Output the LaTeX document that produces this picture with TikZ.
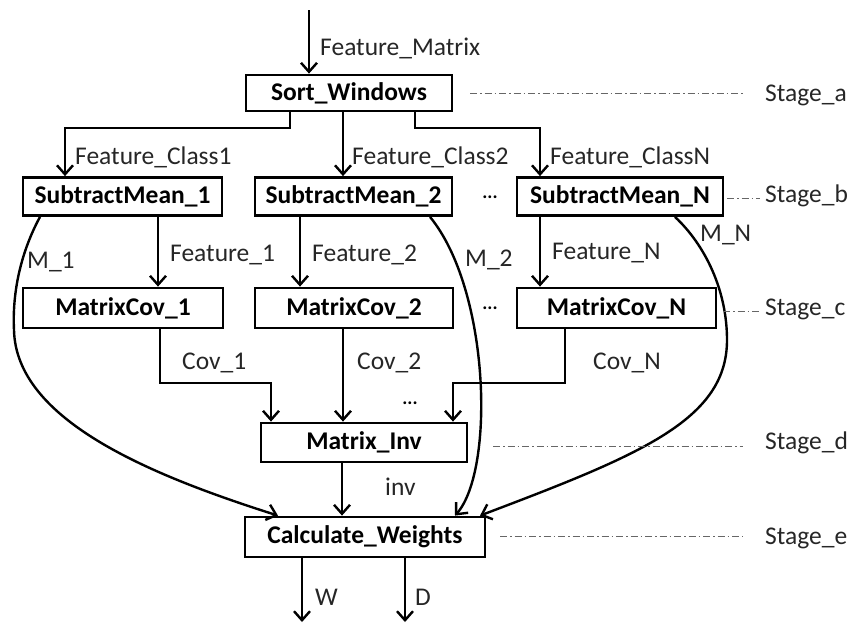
\documentclass[tikz,border=0pt]{standalone}
\usepackage{fontspec}
\setmainfont{Carlito}
\usetikzlibrary{arrows.meta}
\begin{document}
\begin{tikzpicture}[x=1pt,y=-1pt,
  every node/.style={font=\fontsize{25.5}{30}\selectfont, inner sep=0pt},
  proc/.style={draw, line width=2.8pt, font=\fontsize{25.5}{30}\selectfont\bfseries, minimum height=38pt},
  conn/.style={line width=2.4pt, -{Straight Barb[length=9pt,width=16pt]}},
  lbl/.style={anchor=west, text=black!85},
  stageline/.style={black!60, line width=1pt, dash pattern=on 7pt off 3pt on 1.5pt off 3pt},
  dots/.style={font=\fontsize{19}{22}\selectfont\bfseries}
]
\useasboundingbox (0,0) rectangle (854,627);

% processing blocks
\node[proc, minimum width=206pt, minimum height=36pt] (sort) at (349,93) {Sort\_Windows};
\node[proc, minimum width=199pt] (sm1) at (122.5,196.5) {SubtractMean\_1};
\node[proc, minimum width=197pt] (sm2) at (353.5,196.5) {SubtractMean\_2};
\node[proc, minimum width=206pt] (smN) at (620,196.5) {SubtractMean\_N};
\node[proc, minimum width=200pt, minimum height=40pt] (mc1) at (123,308) {MatrixCov\_1};
\node[proc, minimum width=198pt, minimum height=40pt] (mc2) at (354,308) {MatrixCov\_2};
\node[proc, minimum width=199pt, minimum height=40pt] (mcN) at (616.5,308) {MatrixCov\_N};
\node[proc, minimum width=206pt, minimum height=39pt] (inv) at (364,442.5) {Matrix\_Inv};
\node[proc, minimum width=240pt, minimum height=40pt] (cw) at (365,537) {Calculate\_Weights};

\node[dots] (d1) at (490,197) {...};
\node[dots] (d2) at (490,308) {...};
\node[dots] (d3) at (410,403) {...};

% input
\coordinate (in) at (309,10);
\draw[conn] (in) -- (in |- sort.north);
\node[lbl] (fm) at (320,48) {Feature\_Matrix};

% split into classes
\coordinate (s1) at ([xshift=-59pt]sort.south);
\coordinate (s2) at ([xshift=-6pt]sort.south);
\coordinate (s3) at ([xshift=66pt]sort.south);
\coordinate (b1) at (65,128);
\coordinate (b3) at (540,128);
\draw[conn] (s1) |- (b1) -- (b1 |- sm1.north);
\draw[conn] (s2) -- (s2 |- sm2.north);
\draw[conn] (s3) |- (b3) -- (b3 |- smN.north);
\node[lbl] (fc1) at (75,157) {Feature\_Class1};
\node[lbl] (fc2) at (352,157) {Feature\_Class2};
\node[lbl] (fcN) at (550,157) {Feature\_ClassN};

% mean-subtracted features
\coordinate (f1) at ([xshift=35.5pt]sm1.south);
\coordinate (f2) at ([xshift=-53.5pt]sm2.south);
\coordinate (fN) at ([xshift=-80pt]smN.south);
\draw[conn] (f1) -- (f1 |- mc1.north);
\draw[conn] (f2) -- (f2 |- mc2.north);
\draw[conn] (fN) -- (fN |- mcN.north);
\node[lbl] (lf1) at (170,255) {Feature\_1};
\node[lbl] (lf2) at (312,255) {Feature\_2};
\node[lbl] (lfN) at (552,253) {Feature\_N};

% covariances
\coordinate (c1) at ([xshift=37pt]mc1.south);
\coordinate (c2) at ([xshift=-11pt]mc2.south);
\coordinate (cN) at ([xshift=-51.5pt]mcN.south);
\coordinate (k1) at (271,383);
\coordinate (kN) at (453,383);
\draw[conn] (c1) |- (k1) -- (k1 |- inv.north);
\draw[conn] (c2) -- (c2 |- inv.north);
\draw[conn] (cN) |- (kN) -- (kN |- inv.north);
\node[lbl] (lc1) at (182,363) {Cov\_1};
\node[lbl] (lc2) at (357,363) {Cov\_2};
\node[lbl] (lcN) at (593,363) {Cov\_N};

% inverse
\coordinate (iv) at ([xshift=-22pt]inv.south);
\draw[conn] (iv) -- (iv |- cw.north);
\node[lbl] (linv) at (385,487) {inv};

% means
\draw[conn] ([xshift=-82.5pt]sm1.south) .. controls (22,250) and (12,290) .. (14,330)
  .. controls (16,420) and (150,475) .. ([xshift=-87pt]cw.north);
\draw[conn] ([xshift=76.5pt]sm2.south) .. controls (490,290) and (495,470) .. ([xshift=90pt]cw.north);
\draw[conn] ([xshift=55pt]smN.south) .. controls (705,245) and (727,290) .. (727,340)
  .. controls (727,420) and (640,455) .. ([xshift=115pt]cw.north);
\node[lbl] (lm1) at (27,262) {M\_1};
\node[lbl] (lm2) at (465,260) {M\_2};
\node[lbl] (lmN) at (700,235) {M\_N};

% outputs
\coordinate (wo) at (302,622);
\coordinate (do) at (405,622);
\draw[conn] (wo |- cw.south) -- (wo);
\draw[conn] (do |- cw.south) -- (do);
\node[lbl] (lw) at (315,597) {W};
\node[lbl] (ld) at (415,597) {D};

% stages
\node[lbl] (sta) at (765,95) {Stage\_a};
\node[lbl] (stb) at (765,196) {Stage\_b};
\node[lbl] (stc) at (765,309) {Stage\_c};
\node[lbl] (std) at (765,443) {Stage\_d};
\node[lbl] (ste) at (765,538) {Stage\_e};
\coordinate (ga) at (470,93);
\coordinate (gb) at (727,198);
\coordinate (gc) at (723,311);
\coordinate (gd) at (493,446);
\coordinate (ge) at (500,536);
\draw[stageline, shorten >=20pt] (ga) -- (ga -| sta.west);
\draw[stageline, shorten >=5pt] (gb) -- (gb -| stb.west);
\draw[stageline, shorten >=5pt] (gc) -- (gc -| stc.west);
\draw[stageline, shorten >=22pt] (gd) -- (gd -| std.west);
\draw[stageline, shorten >=22pt] (ge) -- (ge -| ste.west);
\end{tikzpicture}
\end{document}
